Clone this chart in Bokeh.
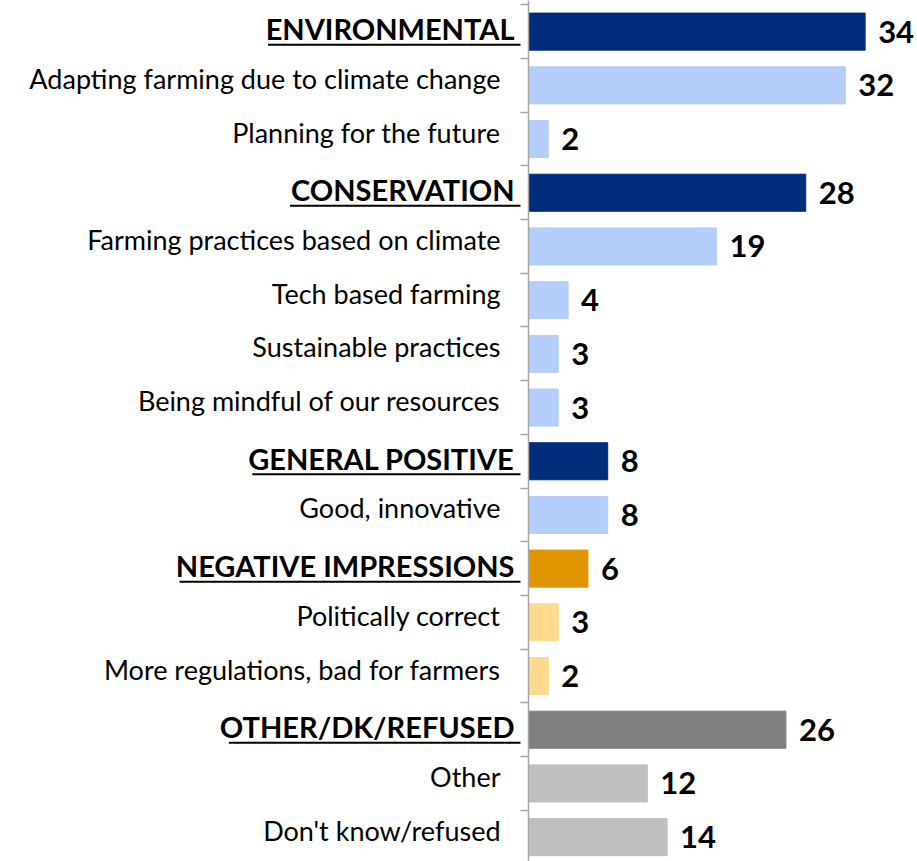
from bokeh.plotting import figure
from bokeh.models import Range1d, LinearAxis, FixedTicker, ColumnDataSource
from bokeh.core.properties import value
from bokeh.embed import file_html
from bokeh.resources import INLINE

labels = ["ENVIRONMENTAL", "Adapting farming due to climate change", "Planning for the future",
          "CONSERVATION", "Farming practices based on climate", "Tech based farming",
          "Sustainable practices", "Being mindful of our resources",
          "GENERAL POSITIVE", "Good, innovative",
          "NEGATIVE IMPRESSIONS", "Politically correct", "More regulations, bad for farmers",
          "OTHER/DK/REFUSED", "Other", "Don't know/refused"]
values = [34, 32, 2, 28, 19, 4, 3, 3, 8, 8, 6, 3, 2, 26, 12, 14]
is_header = [1, 0, 0, 1, 0, 0, 0, 0, 1, 0, 1, 0, 0, 1, 0, 0]
groups = ["blue", "blue", "blue", "blue", "blue", "blue", "blue", "blue", "blue", "blue",
          "orange", "orange", "orange", "gray", "gray", "gray"]

palette = {"blue": ("#002C7C", "#B4CDFB"), "orange": ("#E19600", "#FFD98E"), "gray": ("#7F7F7F", "#BFBFBF")}

W, H = 917, 861
X0, X1 = -53.33, 39.29
ROW_PX = 53.7
ppu = W / (X1 - X0)
rows = list(range(len(labels)))
colors = [palette[g][0] if h else palette[g][1] for g, h in zip(groups, is_header)]

src = ColumnDataSource(dict(y=rows, v=values, label=labels, color=colors))

p = figure(width=W, height=H, x_range=Range1d(X0, X1), y_range=Range1d(15.454, -0.580),
           output_backend="svg", toolbar_location=None, min_border=0,
           x_axis_type=None, y_axis_type=None)
p.outline_line_color = None
p.grid.visible = False
p.background_fill_color = "white"

p.hbar(y="y", left=0, right="v", height=0.69, color="color", source=src)

# axis at x=0 with ticks at category boundaries
ticks = [r - 0.5 for r in rows] + [len(rows) - 0.5]
ax = LinearAxis(fixed_location=0, ticker=FixedTicker(ticks=ticks),
                axis_line_color="#A6A6A6", axis_line_width=1.5,
                major_tick_line_color="#A6A6A6", major_tick_line_width=1.5,
                major_tick_out=8, major_tick_in=0, minor_tick_line_color=None,
                major_label_overrides={t: "" for t in ticks}, major_label_standoff=0)
p.add_layout(ax, "left")

hdr_idx = [i for i in rows if is_header[i]]
sub_idx = [i for i in rows if not is_header[i]]
hsrc = ColumnDataSource(dict(y=[rows[i] for i in hdr_idx], label=[labels[i] for i in hdr_idx],
                             zero=[0] * len(hdr_idx)))
ssrc = ColumnDataSource(dict(y=[rows[i] for i in sub_idx], label=[labels[i] for i in sub_idx],
                             zero=[0] * len(sub_idx)))

p.text(x="zero", y="y", text="label", source=ssrc, text_align="right", text_baseline="middle",
       x_offset=-28, y_offset=-7, text_font=value("Lato"), text_font_size="27px", text_color="black")
p.text(x="zero", y="y", text="label", source=hsrc, text_align="right", text_baseline="middle",
       x_offset=-14, y_offset=-3, text_font=value("Lato"), text_font_size="29px",
       text_font_style="bold", text_color="black")

# underline for header labels (approximate Lato Bold advance widths, em)
cw = {"A": 0.69, "C": 0.66, "D": 0.75, "E": 0.56, "F": 0.54, "G": 0.72, "H": 0.76, "I": 0.30,
      "K": 0.68, "L": 0.50, "M": 0.91, "N": 0.76, "O": 0.79, "P": 0.61, "R": 0.63, "S": 0.52,
      "T": 0.59, "U": 0.73, "V": 0.69, "/": 0.40, " ": 0.26}
fs = 29
x0s, x1s, ys = [], [], []
for i in hdr_idx:
    wpx = sum(cw.get(c, 0.6) for c in labels[i]) * fs
    x0s.append(-(14 + wpx) / ppu)
    x1s.append(-8 / ppu)
    ys.append(rows[i] + 13 / ROW_PX)
p.segment(x0=x0s, y0=ys, x1=x1s, y1=ys, line_color="black", line_width=2)

p.text(x="v", y="y", text="v", source=src, text_align="left", text_baseline="middle",
       x_offset=13, y_offset=0, text_font=value("Lato"), text_font_size="31px",
       text_font_style="bold", text_color="black")

open("out.html", "w").write(file_html(p, INLINE))
